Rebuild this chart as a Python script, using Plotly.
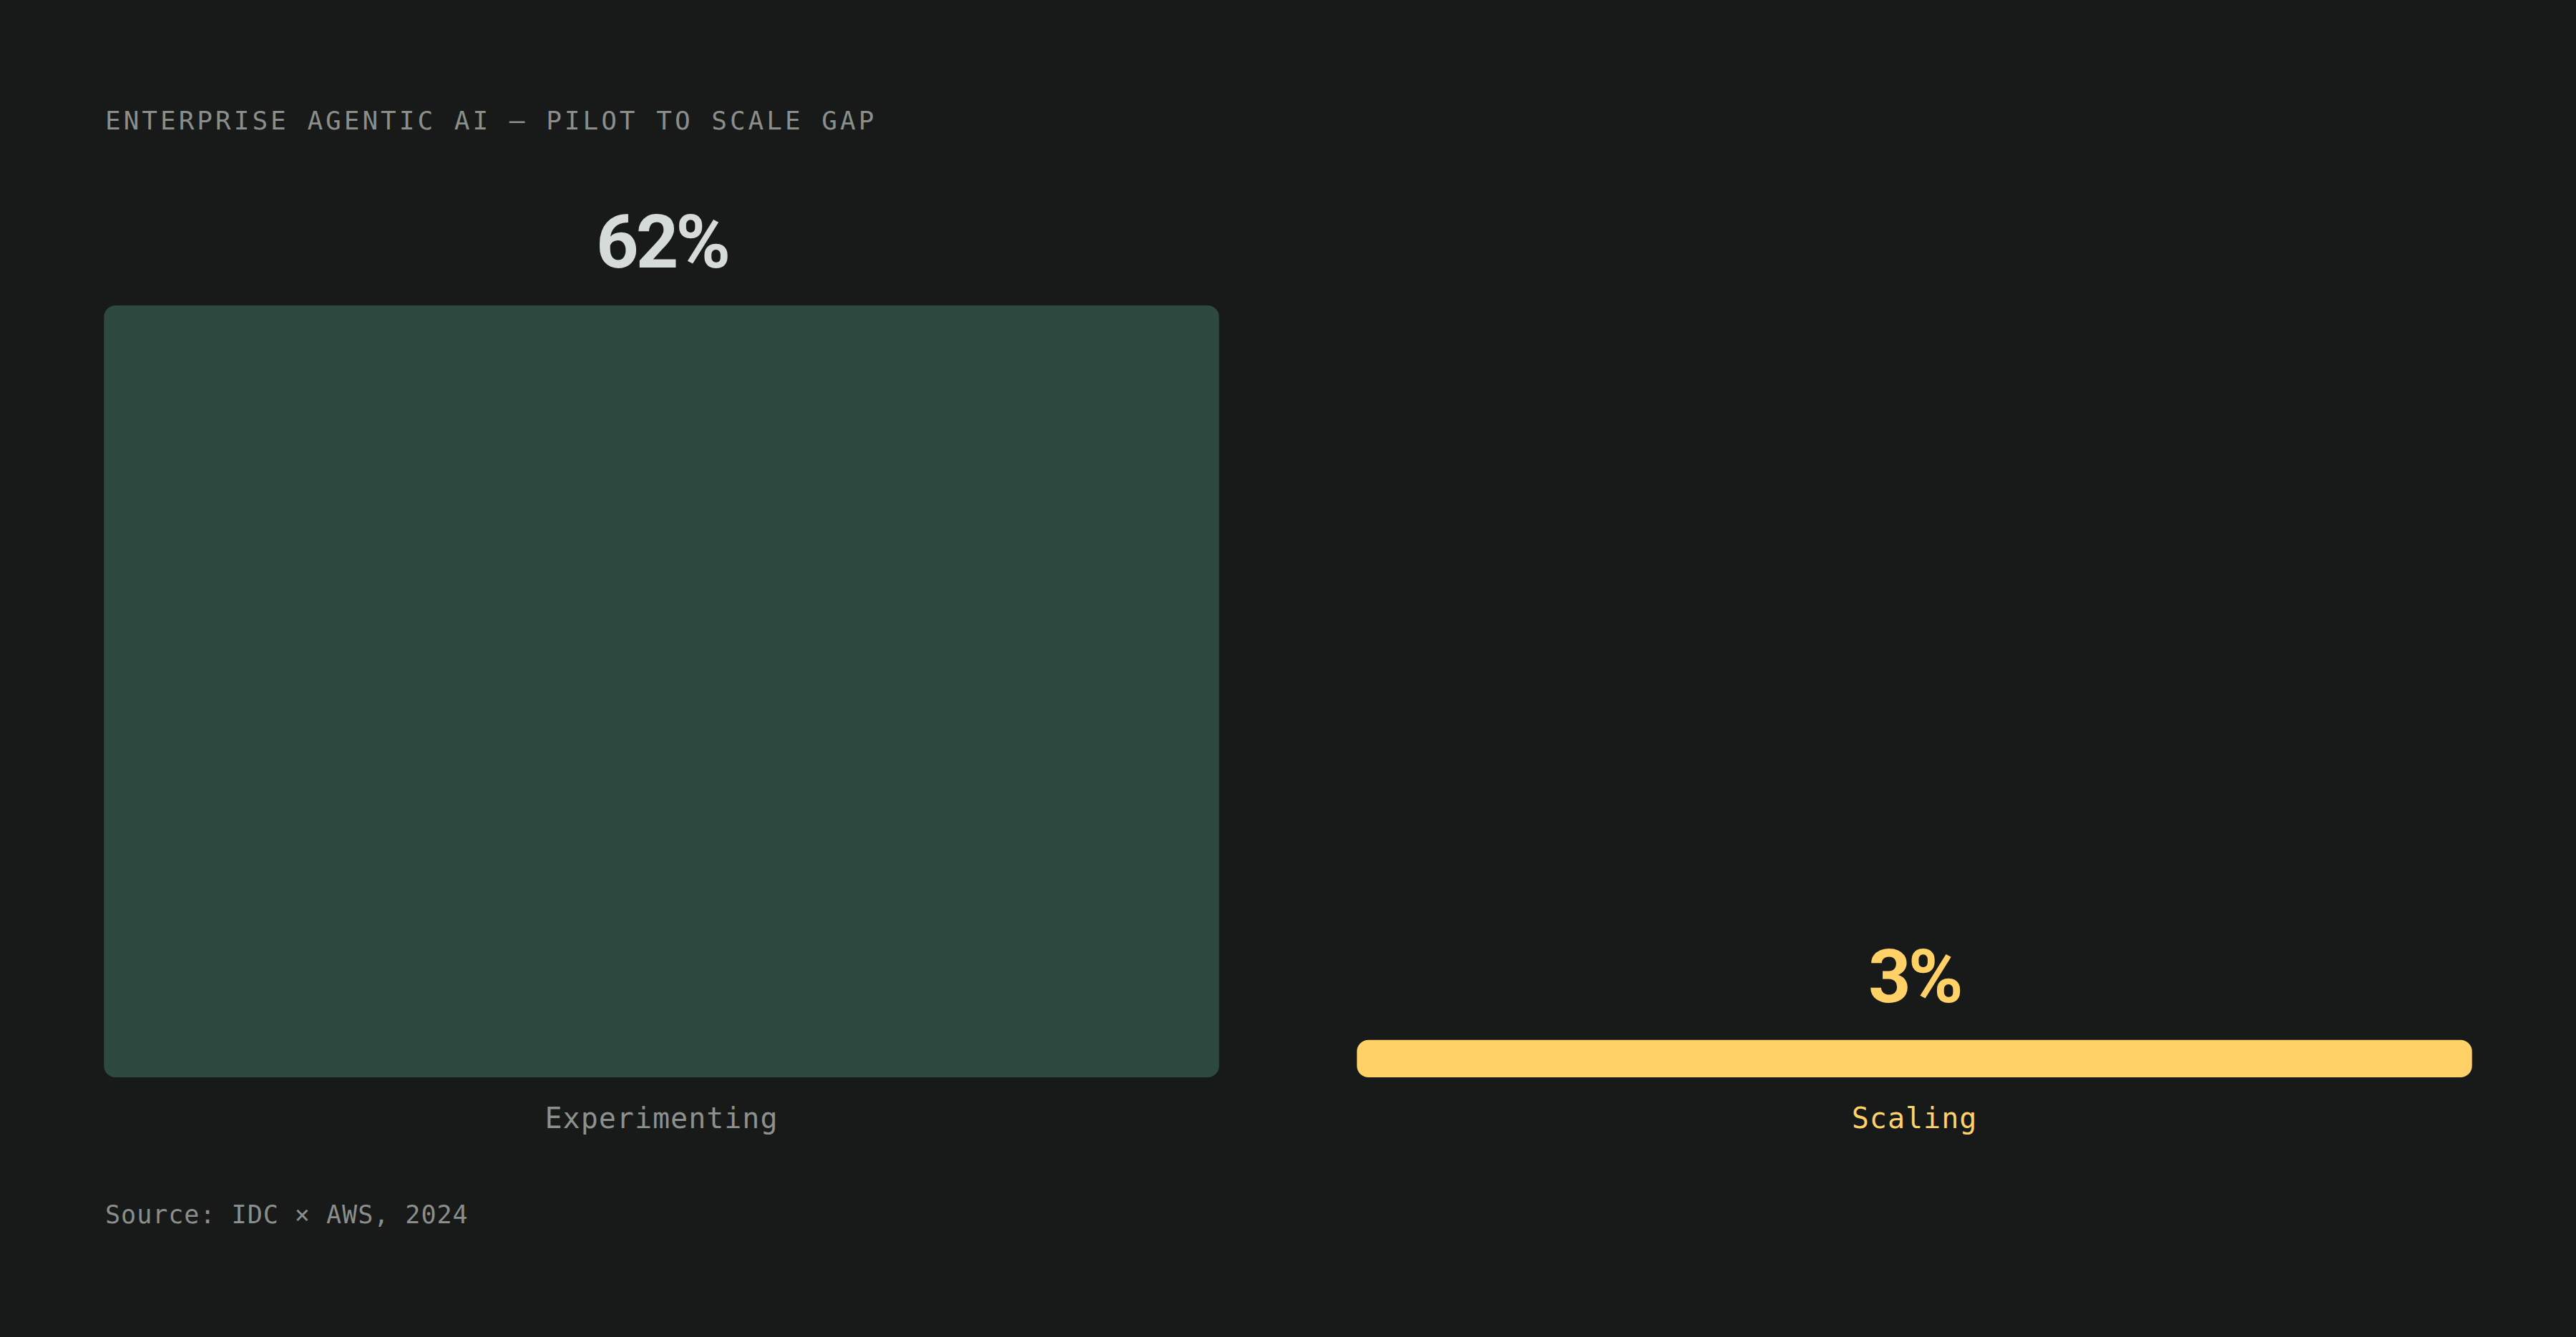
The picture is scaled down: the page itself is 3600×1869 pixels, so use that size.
import plotly.graph_objects as go

# ---- data ----
categories = ["Experimenting", "Scaling"]
values = [62, 3]
value_labels = ["62%", "3%"]
bar_colors = ["#2e4a40", "#ffd166"]
value_colors = ["#d5dbd8", "#ffd166"]
label_colors = ["#8c918e", "#ffd166"]
title_text = "ENTERPRISE AGENTIC AI — PILOT TO SCALE GAP"
source_text = "Source: IDC × AWS, 2024"

# ---- layout constants ----
W, H = 3600, 1869
ML, MR, MT, MB = 49, 49, 427, 363
BG = "#171a19"
MONO = "DejaVu Sans Mono"
SANS = "Roboto"

plot_w = W - ML - MR
plot_h = H - MT - MB


def px_to_paper_x(px):
    return (px - ML) / plot_w


def px_to_paper_y(py):
    return (H - MB - py) / plot_h


fig = go.Figure()

fig.add_trace(go.Bar(
    x=categories, y=values, base=[0] * len(values),
    marker=dict(color=bar_colors, line=dict(width=0)),
    hovertemplate="%{x}: %{y}%<extra></extra>",
    showlegend=False,
))

annotations = []
for cat, v, lab, col in zip(categories, values, value_labels, value_colors):
    annotations.append(dict(
        x=cat, y=v, xref="x", yref="y",
        text=f'<span style="letter-spacing:-4px">{lab}</span>',
        showarrow=False, xanchor="center", yanchor="bottom", yshift=26,
        font=dict(family=SANS, size=104, color=col, weight=700),
    ))

annotations.append(dict(
    x=px_to_paper_x(145), y=px_to_paper_y(168), xref="paper", yref="paper",
    text=f'<span style="letter-spacing:4px">{title_text}</span>',
    showarrow=False, xanchor="left", yanchor="middle",
    font=dict(family=MONO, size=36, color="#8a8f8c"),
))
annotations.append(dict(
    x=px_to_paper_x(145), y=px_to_paper_y(1698), xref="paper", yref="paper",
    text=f'<span style="letter-spacing:1px">{source_text}</span>',
    showarrow=False, xanchor="left", yanchor="middle",
    font=dict(family=MONO, size=35, color="#8a8f8c"),
))

ticktext = [f'<span style="color:{c};letter-spacing:1px">{t}</span>'
            for t, c in zip(categories, label_colors)]

fig.update_layout(
    width=W, height=H,
    margin=dict(l=ML, r=MR, t=MT, b=MB, pad=0),
    paper_bgcolor=BG, plot_bgcolor=BG,
    bargap=0.11, barcornerradius=16,
    annotations=annotations,
    showlegend=False,
    xaxis=dict(
        range=[-0.5, 1.5], showgrid=False, zeroline=False, showline=False,
        ticks="", tickmode="array", tickvals=categories, ticktext=ticktext,
        tickfont=dict(family=MONO, size=40, color="#8c918e"),
        ticklabelstandoff=30, fixedrange=True,
    ),
    yaxis=dict(
        range=[0, 62], showgrid=False, zeroline=False, showline=False,
        showticklabels=False, ticks="", fixedrange=True,
    ),
)

fig.write_html(
    "out.html",
    config={"displayModeBar": False},
    post_script="document.body.style.margin='0';document.body.style.overflow='hidden';"
                "document.body.style.background='" + BG + "';",
)
